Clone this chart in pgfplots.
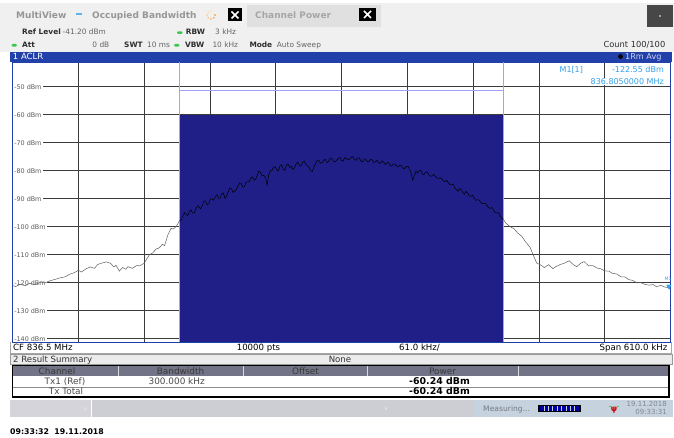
\documentclass[border=0pt]{standalone}
\usepackage{pgfplots}
\pgfplotsset{compat=1.18}
\usepackage{fontspec}
\setmainfont{DejaVu Sans}
\newcommand\fs[1]{\fontsize{#1}{#1}\selectfont}
\definecolor{panelblue}{RGB}{33,64,170}
\definecolor{chanblue}{RGB}{31,31,135}
\definecolor{lightline}{RGB}{160,160,255}
\definecolor{gridgray}{RGB}{60,60,60}
\definecolor{tracegray}{RGB}{95,95,95}
\definecolor{topgray}{RGB}{240,240,240}
\definecolor{tabgray}{RGB}{224,224,224}
\definecolor{tabtext}{RGB}{150,150,150}
\definecolor{infolabel}{RGB}{45,45,45}
\definecolor{infovalue}{RGB}{100,100,100}
\definecolor{markerblue}{RGB}{50,160,235}
\definecolor{hdrgray}{RGB}{115,115,135}
\definecolor{statusgray}{RGB}{205,205,212}
\definecolor{statusleft}{RGB}{212,212,218}
\definecolor{statusblue}{RGB}{198,210,222}
\definecolor{greendot}{RGB}{60,200,80}
\definecolor{labelgray}{RGB}{90,90,90}
\begin{document}
\begin{tikzpicture}
\begin{scope}[x=1pt,y=-1pt,yshift=438pt]
\fill[white] (0,0) rectangle (674,438);
% top tab bar
\fill[topgray] (0,3) rectangle (674,52);
\fill[tabgray] (247,5) rectangle (381,27);
\node[anchor=base west,inner sep=0,text=tabtext,font=\fs{9}\bfseries] at (16,18.7) {MultiView};
\fill[markerblue!80] (75.5,13) rectangle (81.5,15.5);
\node[anchor=base west,inner sep=0,text=tabtext,font=\fs{9}\bfseries] at (92,18.7) {Occupied Bandwidth};
\foreach \a/\c in {0/100,45/85,90/70,135/55,180/45,225/35,270/25,315/15}
  \fill[orange!\c!white] (211,15) ++(\a:4) circle (0.9);
\fill[black] (228,8.5) rectangle (242,21.5);
\draw[white,line width=1.6pt] (231.5,11.5) -- (238.5,18.5) (231.5,18.5) -- (238.5,11.5);
\node[anchor=base west,inner sep=0,text=tabtext!85!white,font=\fs{9}\bfseries] at (255,18.7) {Channel Power};
\fill[black] (359,8) rectangle (376,21);
\draw[white,line width=1.6pt] (364,11) -- (371,18) (364,18) -- (371,11);
\fill[black!72] (647,5) rectangle (673,27);
\fill[white] (660,16) circle (0.9);
% info rows
\node[anchor=base west,inner sep=0,text=infolabel,font=\fs{7.4}\bfseries] at (22,34.7) {Ref Level};
\node[anchor=base west,inner sep=0,text=infovalue,font=\fs{7.4}] at (62.5,34.7) {-41.20 dBm};
\fill[greendot,rounded corners=1.2pt] (177,31.3) rectangle (182.5,34.0);
\node[anchor=base west,inner sep=0,text=infolabel,font=\fs{7.4}\bfseries] at (185.7,34.7) {RBW};
\node[anchor=base west,inner sep=0,text=infovalue,font=\fs{7.4}] at (215,34.7) {3 kHz};
\fill[greendot,rounded corners=1.2pt] (11.5,43.9) rectangle (17,46.6);
\node[anchor=base west,inner sep=0,text=infolabel,font=\fs{7.4}\bfseries] at (22,47.3) {Att};
\node[anchor=base east,inner sep=0,text=infovalue,font=\fs{7.4}] at (109.5,47.3) {0 dB};
\node[anchor=base west,inner sep=0,text=infolabel,font=\fs{7.4}\bfseries] at (124,47.3) {SWT};
\node[anchor=base west,inner sep=0,text=infovalue,font=\fs{7.4}] at (147,47.3) {10 ms};
\fill[greendot,rounded corners=1.2pt] (174,43.9) rectangle (179.5,46.6);
\node[anchor=base west,inner sep=0,text=infolabel,font=\fs{7.4}\bfseries] at (185,47.3) {VBW};
\node[anchor=base west,inner sep=0,text=infovalue,font=\fs{7.4}] at (212.3,47.3) {10 kHz};
\node[anchor=base west,inner sep=0,text=infolabel,font=\fs{7.4}\bfseries] at (249.3,47.3) {Mode};
\node[anchor=base west,inner sep=0,text=infovalue,font=\fs{7.4}] at (276.7,47.3) {Auto Sweep};
\node[anchor=base east,inner sep=0,text=infolabel,font=\fs{8.3}] at (665.5,47.3) {Count 100/100};
% ACLR bar
\fill[panelblue] (10,52) rectangle (672,61.8);
\node[anchor=base west,inner sep=0,text=white,font=\fs{8.5}] at (12.7,59.5) {1 ACLR};
\fill[black] (620.5,56.5) circle (2.4);
\node[anchor=base west,inner sep=0,text=white!78!panelblue,font=\fs{8.1}] at (625,59.5) {1Rm Avg};
% footer row
\fill[white] (10,342) rectangle (672,353.5);
\draw[gray!70,line width=0.5pt] (10.5,342) -- (10.5,353.5) -- (671.5,353.5) -- (671.5,342);
\node[anchor=base west,inner sep=0,text=black,font=\fs{8.6}] at (13,350.6) {CF 836.5 MHz};
\node[anchor=base,inner sep=0,text=black,font=\fs{8.6}] at (258.5,350.6) {10000 pts};
\node[anchor=base,inner sep=0,text=black,font=\fs{8.6}] at (419.5,350.6) {61.0 kHz/};
\node[anchor=base east,inner sep=0,text=black,font=\fs{8.6}] at (667.5,350.6) {Span 610.0 kHz};
% result summary bar
\fill[black!8] (10,354) rectangle (672,364.5);
\draw[gray!80,line width=0.5pt] (10,354) rectangle (672,364.5);
\node[anchor=base west,inner sep=0,text=black!80,font=\fs{8.6}] at (13,362.3) {2 Result Summary};
\node[anchor=base,inner sep=0,text=black!80,font=\fs{8.6}] at (340,362.3) {None};
% table
\fill[white] (12.5,365.5) rectangle (669,397);
\fill[hdrgray] (12.5,365.5) rectangle (669,376.5);
\draw[black!15,line width=0.6pt] (118.3,366) -- (118.3,376.3) (243.3,366) -- (243.3,376.3) (367.3,366) -- (367.3,376.3) (518.3,366) -- (518.3,376.3);
\draw[black!45,line width=0.5pt] (12.5,387.2) -- (669,387.2);
\draw[black,line width=1.5pt] (12.5,365.5) rectangle (669,397);
\node[anchor=base,inner sep=0,text=black!78,font=\fs{8.9}] at (57,374.3) {Channel};
\node[anchor=base,inner sep=0,text=black!78,font=\fs{8.9}] at (180.5,374.3) {Bandwidth};
\node[anchor=base,inner sep=0,text=black!78,font=\fs{8.9}] at (305.5,374.3) {Offset};
\node[anchor=base,inner sep=0,text=black!78,font=\fs{8.9}] at (442.5,374.3) {Power};
\node[anchor=base,inner sep=0,text=black!70,font=\fs{8.9}] at (65,384.6) {Tx1 (Ref)};
\node[anchor=base,inner sep=0,text=black!70,font=\fs{8.9}] at (176.7,384.6) {300.000 kHz};
\node[anchor=base,inner sep=0,text=black,font=\fs{9.4}\bfseries] at (439.5,384.6) {-60.24 dBm};
\node[anchor=base,inner sep=0,text=black!70,font=\fs{8.9}] at (66,394.3) {Tx Total};
\node[anchor=base,inner sep=0,text=black,font=\fs{9.4}\bfseries] at (439.5,394.3) {-60.24 dBm};
% status bar
\fill[statusgray] (10,400) rectangle (673,417.5);
\fill[statusleft] (10,400) rectangle (90.5,417.5);
\draw[white,line width=0.6pt] (91,400) -- (91,417.5);
\node[anchor=base,inner sep=0,text=white!90!gray,font=\fs{5}] at (85.5,410.5) {v};
\node[anchor=base,inner sep=0,text=white!90!gray,font=\fs{5}] at (386,410.5) {v};
\fill[statusblue] (473,400) rectangle (673,417.5);
\node[anchor=base west,inner sep=0,text=black!42!statusblue,font=\fs{7.6}] at (483,411.3) {Measuring...};
\fill[black] (538,405) rectangle (580.5,412.5);
\fill[blue!65!black] (539.5,406) rectangle (579,411.5);
\foreach \xx in {543.9,548.3,552.7,557.1,561.5,565.9,570.3,574.7}
  \draw[statusblue,line width=0.6pt] (\xx,406) -- (\xx,411.5);
\node[anchor=base,inner sep=0,text=red!80!black,font=\fs{8}\bfseries] at (614,411.5) {ψ};
\fill[greendot] (610,406.5) circle (0.9) (618,406.5) circle (0.9);
\node[anchor=base east,inner sep=0,text=black!35!statusblue,font=\fs{7}] at (667,406.2) {19.11.2018};
\node[anchor=base east,inner sep=0,text=black!35!statusblue,font=\fs{7}] at (667,414.4) {09:33:31};
% bottom timestamp
\node[anchor=base west,inner sep=0,text=black,font=\fs{7.8}\bfseries] at (10,435) {09:33:32\ \ 19.11.2018};
\end{scope}

\begin{axis}[
  at={(12.5pt,96pt)}, anchor=south west,
  scale only axis, width=658pt, height=280pt,
  xmin=-305, xmax=305, ymin=-141.2, ymax=-41.2,
  xtick={-244,-183,-122,-61,0,61,122,183,244},
  ytick={-140,-130,-120,-110,-100,-90,-80,-70,-60,-50},
  xticklabels={}, yticklabels={},
  major tick length=0pt,
  grid=major, grid style={draw=gridgray,line width=0.6pt},
  axis line style={draw=panelblue,line width=0.8pt},
  clip=true,
]
% channel area
\addplot[fill=chanblue,draw=none] coordinates {(-150,-141.2) (-150,-60) (150,-60) (150,-141.2)} -- cycle;
\addplot[lightline,line width=0.8pt] coordinates {(-150,-41.2) (-150,-141.2)};
\addplot[lightline,line width=0.8pt] coordinates {(150,-41.2) (150,-141.2)};
\addplot[lightline,line width=0.8pt] coordinates {(-150,-51.2) (150,-51.2)};
% level labels
\foreach \v in {-50,-60,-70,-80,-90,-100,-110,-120,-130,-140}{
  \edef\tmp{\noexpand\node[anchor=west,fill=white,inner xsep=1.6pt,inner ysep=0.6pt,text=labelgray,font=\noexpand\fs{6.4}] at (axis cs:-305,\v) {\v\noexpand\ dBm};}\tmp
}
% marker readout
\node[anchor=base west,inner sep=0,text=markerblue,font=\fs{8}] at (axis cs:202,-44.9) {M1[1]};
\node[anchor=base east,fill=white,inner xsep=0pt,inner ysep=0.5pt,text=markerblue,font=\fs{8}] at (axis cs:299,-44.9) {-122.55 dBm};
\node[anchor=base east,fill=white,inner xsep=0pt,inner ysep=0.5pt,text=markerblue,font=\fs{8}] at (axis cs:299,-49.2) {836.8050000 MHz};
% trace: left
\addplot[tracegray,line width=0.5pt] coordinates {
(-305,-121.0) (-302,-121.4) (-298,-120.6) (-293,-121.1) (-289,-120.2) (-284,-120.7) (-279,-119.8) (-275,-120.1) (-270,-119.3) (-266,-118.9) (-261,-118.3) (-256,-117.9) (-252,-117.0) (-248,-116.5) (-244,-115.6) (-241,-116.2) (-237,-115.1) (-233,-114.4) (-229,-114.9) (-226,-113.5) (-222,-113.0) (-218,-112.6) (-214,-113.1) (-211,-114.4) (-209,-113.8) (-206,-115.9) (-203,-114.6) (-200,-115.2) (-198,-114.3) (-194,-114.9) (-190,-113.9) (-187,-114.0) (-183,-113.1) (-180,-111.2) (-178,-110.0) (-175,-109.4) (-172,-108.0) (-169,-107.6) (-166,-106.3) (-164,-106.8) (-161,-103.0) (-158,-100.6) (-156,-100.9) (-153,-99.8) (-150,-97.8)
};
% trace: channel
\addplot[black,line width=0.5pt] coordinates {
(-150,-97.8) (-148.5,-97.7) (-147,-96.0) (-145.5,-95.0) (-144,-95.7) (-142.5,-96.0) (-141,-94.6) (-139.5,-94.0) (-138,-95.1) (-136.5,-95.2) (-135,-93.6) (-133.5,-92.5) (-132,-93.0) (-130.5,-93.6) (-129,-92.4) (-127.5,-90.8) (-126,-90.9) (-124.5,-92.2) (-123,-91.7) (-121.5,-90.0) (-120,-90.1) (-118.5,-90.6) (-117,-89.2) (-115.5,-88.6) (-114,-89.8) (-112.5,-89.9) (-111,-88.3) (-109.5,-88.0) (-108,-89.9) (-106.5,-89.0) (-105,-87.6) (-103.5,-86.2) (-102,-86.5) (-100.5,-87.8) (-99,-87.2) (-97.5,-86.9) (-96,-85.6) (-94.5,-84.4) (-93,-84.5) (-91.5,-85.9) (-90,-85.8) (-88.5,-84.1) (-87,-84.0) (-85.5,-83.9) (-84,-82.6) (-82.5,-82.3) (-81,-83.4) (-79.5,-83.0) (-78,-81.5) (-76.5,-80.2) (-75,-80.6) (-73.5,-81.9) (-72,-81.7) (-70.5,-82.4) (-69,-85.2) (-67.5,-81.6) (-66,-80.0) (-64.5,-79.9) (-63,-78.8) (-61.5,-78.6) (-60,-79.6) (-58.5,-80.1) (-57,-78.3) (-55.5,-78.0) (-54,-79.5) (-52.5,-79.9) (-51,-78.0) (-49.5,-77.7) (-48,-78.9) (-46.5,-78.4) (-45,-79.6) (-43.5,-78.9) (-42,-77.6) (-40.5,-77.0) (-39,-78.2) (-37.5,-78.4) (-36,-77.0) (-34.5,-76.6) (-33,-77.9) (-31.5,-78.2) (-30,-79.0) (-28.5,-80.0) (-27,-80.3) (-25.5,-78.6) (-24,-77.5) (-22.5,-76.2) (-21,-76.4) (-19.5,-77.4) (-18,-77.1) (-16.5,-76.3) (-15,-76.0) (-13.5,-77.2) (-12,-76.7) (-10.5,-75.5) (-9,-75.8) (-7.5,-76.6) (-6,-76.9) (-4.5,-76.2) (-3,-75.7) (-1.5,-75.3) (0,-76.4) (1.5,-76.6) (3,-75.4) (4.5,-75.6) (6,-76.2) (7.5,-75.9) (9,-75.2) (10.5,-75.0) (12,-76.0) (13.5,-76.3) (15,-75.5) (16.5,-75.4) (18,-76.6) (19.5,-76.9) (21,-75.8) (22.5,-75.9) (24,-76.8) (25.5,-76.7) (27,-76.0) (28.5,-76.2) (30,-77.1) (31.5,-76.8) (33,-76.3) (34.5,-77.3) (36,-77.4) (37.5,-76.5) (39,-76.9) (40.5,-77.8) (42,-77.3) (43.5,-77.0) (45,-78.2) (46.5,-78.4) (48,-77.6) (49.5,-77.7) (51,-78.4) (52.5,-78.6) (54,-78.1) (55.5,-78.2) (57,-79.1) (58.5,-79.3) (60,-78.6) (61.5,-78.4) (63,-79.4) (64.5,-80.8) (66,-83.4) (67.5,-81.8) (69,-80.2) (70.5,-80.9) (72,-80.0) (73.5,-79.9) (75,-81.2) (76.5,-81.4) (78,-80.6) (79.5,-80.4) (81,-81.5) (82.5,-82.0) (84,-81.9) (85.5,-81.4) (87,-82.0) (88.5,-82.6) (90,-82.8) (91.5,-82.5) (93,-83.0) (94.5,-83.7) (96,-83.9) (97.5,-83.5) (99,-84.3) (100.5,-85.0) (102,-85.1) (103.5,-84.8) (105,-86.2) (106.5,-86.8) (108,-87.4) (109.5,-86.4) (111,-86.8) (112.5,-87.9) (114,-88.4) (115.5,-87.4) (117,-88.0) (118.5,-89.0) (120,-89.2) (121.5,-88.8) (123,-89.9) (124.5,-90.6) (126,-90.4) (127.5,-90.5) (129,-91.3) (130.5,-91.8) (132,-91.8) (133.5,-91.7) (135,-92.6) (136.5,-93.3) (138,-93.5) (139.5,-93.1) (141,-94.3) (142.5,-95.0) (144,-95.1) (145.5,-95.0) (147,-96.2) (148.5,-97.0) (150,-97.3)
};
% trace: right
\addplot[tracegray,line width=0.5pt] coordinates {
(150,-97.3) (152,-98.6) (156,-99.9) (160,-100.8) (164,-102.5) (167,-103.4) (171,-105.6) (175,-107.5) (178,-110.4) (181,-113.0) (185,-113.8) (188,-114.6) (192,-113.6) (196,-115.0) (199,-114.2) (203,-113.5) (207,-113.0) (211,-112.2) (215,-113.6) (218,-114.3) (222,-113.0) (225,-112.5) (229,-114.0) (233,-113.9) (237,-114.8) (240,-115.0) (244,-115.8) (248,-115.9) (251,-116.7) (255,-116.9) (259,-117.9) (263,-118.0) (266,-118.9) (270,-119.2) (274,-120.1) (277,-119.9) (281,-120.6) (285,-120.9) (289,-120.7) (292,-121.4) (296,-121.0) (300,-121.6) (303,-121.8) (305,-122.5)
};
% marker M1
\addplot[only marks,mark=triangle*,mark size=2.6pt,mark options={fill=markerblue,draw=markerblue,rotate=180}] coordinates {(303.5,-121.3)};
\node[anchor=base east,inner sep=0,text=markerblue,font=\fs{4.5}] at (axis cs:306,-119.2) {M1};
\end{axis}
\pgfresetboundingbox
\path[use as bounding box] (0,0) rectangle (674pt,438pt);
\end{tikzpicture}
\end{document}
